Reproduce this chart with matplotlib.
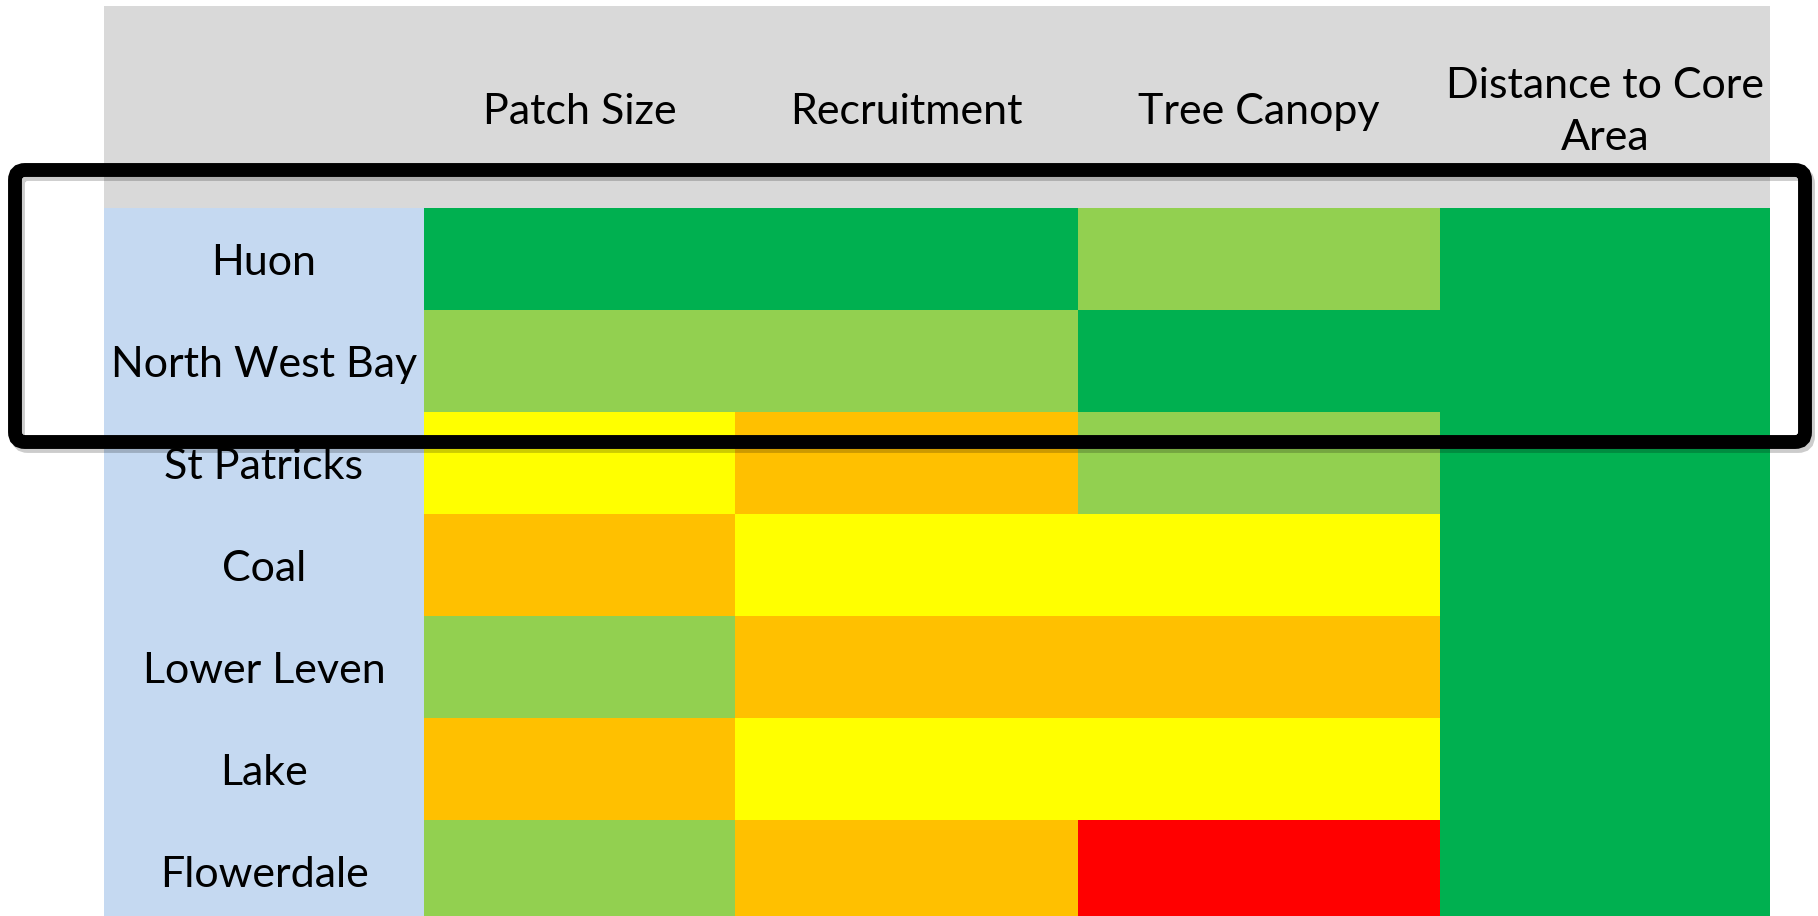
import numpy as np
import matplotlib
matplotlib.use("Agg")
import matplotlib.pyplot as plt
from matplotlib.colors import ListedColormap
from matplotlib.patches import Rectangle, FancyBboxPatch

plt.rcParams['font.family'] = ['Lato', 'DejaVu Sans']

# data
sites = ['Huon', 'North West Bay', 'St Patricks', 'Coal', 'Lower Leven', 'Lake', 'Flowerdale']
criteria = ['Patch Size', 'Recruitment', 'Tree Canopy', 'Distance to Core\nArea']
# 0 = red, 1 = orange, 2 = yellow, 3 = light green, 4 = dark green
ratings = [
    [4, 4, 3, 4],
    [3, 3, 4, 4],
    [2, 1, 3, 4],
    [1, 2, 2, 4],
    [3, 1, 1, 4],
    [1, 2, 2, 4],
    [3, 1, 0, 4],
]
highlight = ['Huon', 'North West Bay']

rating_colors = ['#FF0000', '#FFC000', '#FFFF00', '#92D050', '#00B050']

# layout (pixels)
W, H = 1818, 916
col_edges = [104, 424, 735, 1078, 1440, 1770]
header_top = 6
body_top = 208
row_h = 102

fig = plt.figure(figsize=(W / 100, H / 100), dpi=100)
ax = fig.add_axes([0, 0, 1, 1])
ax.set_xlim(0, W)
ax.set_ylim(H, 0)
ax.axis('off')

n_rows = len(sites)
y_edges = body_top + row_h * np.arange(n_rows + 1)

# header band + label column
ax.add_patch(Rectangle((col_edges[0], header_top), col_edges[-1] - col_edges[0],
                       body_top - header_top, color='#D9D9D9', lw=0))
ax.add_patch(Rectangle((col_edges[0], body_top), col_edges[1] - col_edges[0],
                       y_edges[-1] - body_top, color='#C5D9F1', lw=0))

# rating cells
cmap = ListedColormap(rating_colors)
ax.pcolormesh(col_edges[1:], y_edges, np.array(ratings), cmap=cmap,
              vmin=-0.5, vmax=4.5, shading='flat')

# header labels
for j, name in enumerate(criteria):
    xc = (col_edges[j + 1] + col_edges[j + 2]) / 2
    ax.text(xc, (header_top + body_top) / 2 + 5, name, ha='center', va='center',
            fontsize=31, linespacing=1.45, color='black')

# site labels
for i, s in enumerate(sites):
    yc = (y_edges[i] + y_edges[i + 1]) / 2
    ax.text((col_edges[0] + col_edges[1]) / 2, yc + 4, s, ha='center', va='center',
            fontsize=31, color='black')

# highlight box around selected sites
idx = [sites.index(s) for s in highlight]
top = y_edges[min(idx)] - 38
bot = y_edges[max(idx) + 1] + 30
x0, x1 = 15, 1805
shadow = FancyBboxPatch((x0 + 3, top + 4), x1 - x0, bot - top,
                        boxstyle='round,pad=0,rounding_size=10',
                        fill=False, ec='black', lw=10, alpha=0.2)
ax.add_patch(shadow)
box = FancyBboxPatch((x0, top), x1 - x0, bot - top,
                     boxstyle='round,pad=0,rounding_size=10',
                     fill=False, ec='black', lw=10)
ax.add_patch(box)

fig.savefig('out.png', dpi=100, facecolor='white')
